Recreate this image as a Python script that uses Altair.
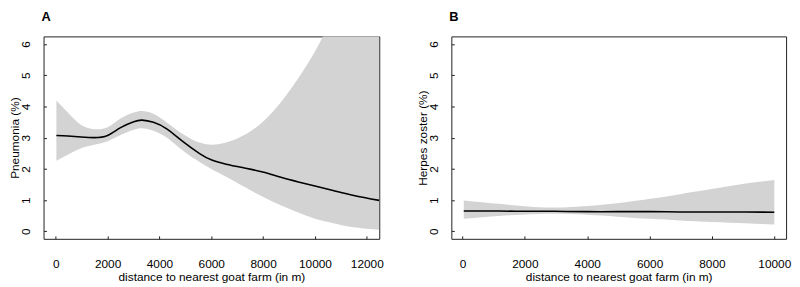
import altair as alt
import pandas as pd

# Panel A: pneumonia
a_x = [25, 470, 980, 1490, 2000, 2500, 3010, 3330, 3770, 4280, 4910, 5550, 6020,
       6570, 7330, 8025, 8720, 9360, 10000, 10700, 11500, 12480]
a_fit = [3.07, 3.05, 3.02, 3.00, 3.07, 3.32, 3.51, 3.56, 3.49, 3.28, 2.87, 2.49, 2.28,
         2.15, 2.02, 1.89, 1.72, 1.58, 1.45, 1.31, 1.15, 0.99]
a_upper = [4.19, 3.80, 3.40, 3.27, 3.33, 3.61, 3.80, 3.85, 3.76, 3.48, 3.11, 2.84, 2.77,
           2.84, 3.11, 3.53, 4.17, 4.91, 5.76, 6.90, 8.40, 10.50]
a_lower = [2.26, 2.45, 2.66, 2.77, 2.88, 3.08, 3.25, 3.30, 3.22, 3.00, 2.58, 2.22, 1.99,
           1.75, 1.40, 1.09, 0.82, 0.60, 0.40, 0.26, 0.13, 0.05]

# Panel B: herpes zoster
b_x = [40, 1160, 2000, 2960, 4010, 4960, 6020, 6970, 8030, 9080, 10000]
b_fit = [0.65, 0.65, 0.64, 0.64, 0.63, 0.63, 0.63, 0.62, 0.62, 0.62, 0.61]
b_upper = [0.99, 0.88, 0.80, 0.76, 0.81, 0.90, 1.04, 1.19, 1.36, 1.53, 1.64]
b_lower = [0.40, 0.49, 0.54, 0.56, 0.53, 0.47, 0.40, 0.35, 0.30, 0.26, 0.22]

y_ticks = [0, 1, 2, 3, 4, 5, 6]
a_xticks = [0, 2000, 4000, 6000, 8000, 10000, 12000]
b_xticks = [0, 2000, 4000, 6000, 8000, 10000]

XTITLE = "distance to nearest goat farm (in m)"
FONT = "Liberation Sans"


def panel(xs, fit, lo, hi, xdom, xticks, ytitle, label, width):
    df = pd.DataFrame({"x": xs, "fit": fit, "lo": lo, "hi": hi})
    xaxis = alt.Axis(values=xticks, title=XTITLE, format="d")
    yaxis = alt.Axis(values=y_ticks, title=ytitle, format="d")
    xscale = alt.Scale(domain=xdom, nice=False, zero=False)
    yscale = alt.Scale(domain=[-0.24, 6.24], nice=False, zero=False)
    band = alt.Chart(df).mark_area(color="#d3d3d3", opacity=1, clip=True,
                                   interpolate="natural").encode(
        x=alt.X("x:Q", scale=xscale, axis=xaxis),
        y=alt.Y("lo:Q", scale=yscale, axis=yaxis),
        y2="hi:Q",
    )
    line = alt.Chart(df).mark_line(color="black", strokeWidth=1.6, clip=True,
                                   interpolate="natural").encode(
        x=alt.X("x:Q", scale=xscale, axis=xaxis),
        y=alt.Y("fit:Q", scale=yscale, axis=yaxis),
    )
    return alt.layer(band, line).properties(
        width=width, height=205,
        title=alt.TitleParams(label, anchor="start", fontSize=13, fontWeight="bold",
                              font=FONT, color="black", offset=13, dx=33),
    )


pa = panel(a_x, a_fit, a_lower, a_upper, [-470, 12480], a_xticks, "Pneumonia (%)", "A", 340)
pb = panel(b_x, b_fit, b_lower, b_upper, [-358, 10377], b_xticks, "Herpes zoster (%)", "B", 339)

chart = alt.hconcat(pa, pb, spacing=32).properties(
    padding={"left": 0, "top": 0, "right": 0, "bottom": 0}
).configure_view(
    stroke="#222", strokeWidth=1
).configure_axis(
    labelFont=FONT, titleFont=FONT, labelFontSize=12, titleFontSize=12,
    titleFontWeight="normal", labelColor="black", titleColor="black",
    grid=False, domain=False, ticks=True, tickColor="#222", tickSize=3,
    offset=-3, labelFlush=False, labelOverlap=False,
).configure_axisX(
    labelPadding=20, titlePadding=1, minExtent=35, maxExtent=35,
).configure_axisY(
    labelAngle=270, labelAlign="center", labelBaseline="middle",
    labelPadding=18, titlePadding=-1, minExtent=26, maxExtent=26,
)

chart.save("out.html", embed_options={"renderer": "svg", "actions": False})
